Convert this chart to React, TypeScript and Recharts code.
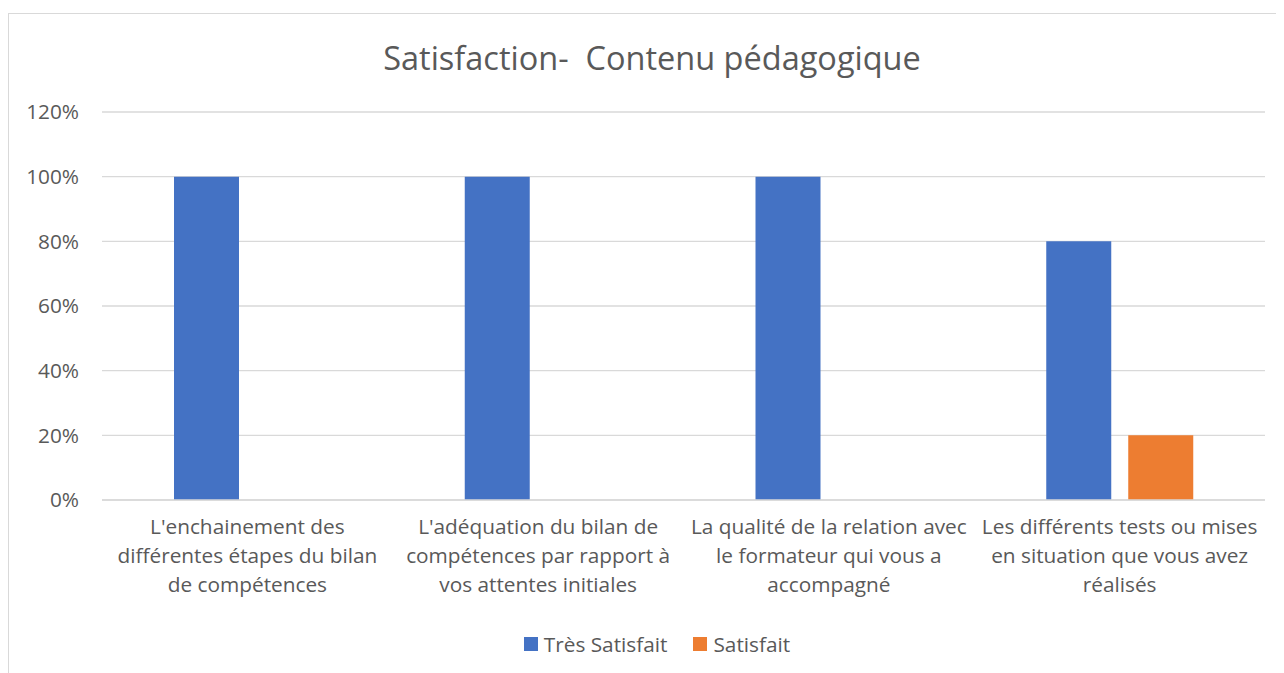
import React from 'react';
import { BarChart, Bar, XAxis, YAxis, CartesianGrid, Legend } from 'recharts';

const categories = [
  "L'enchainement des\ndifférentes étapes du bilan\nde compétences",
  "L'adéquation du bilan de\ncompétences par rapport à\nvos attentes initiales",
  "La qualité de la relation avec\nle formateur qui vous a\naccompagné",
  "Les différents tests ou mises\nen situation que vous avez\nréalisés",
];
const tresSatisfait = [1, 1, 1, 0.8];
const satisfait = [0, 0, 0, 0.2];
const yTicks = [0, 0.2, 0.4, 0.6, 0.8, 1, 1.2];

const seriesInfo = [
  { key: 'tres', name: 'Très Satisfait', color: '#4472C4' },
  { key: 'sat', name: 'Satisfait', color: '#ED7D31' },
];

const data = categories.map((c, i) => ({ name: c, tres: tresSatisfait[i], sat: satisfait[i] }));

const FONT = '"Open Sans", Lato, sans-serif';
const TEXT = '#595959';

const CategoryTick = ({ x, y, payload }: any) => {
  const lines = String(payload.value).split('\n');
  return (
    <text x={x} y={y} textAnchor="middle" fill={TEXT} fontSize={20.8} fontFamily={FONT}>
      {lines.map((l, i) => (
        <tspan key={i} x={x} dy={i === 0 ? 26 : 29}>{l}</tspan>
      ))}
    </text>
  );
};

const LegendContent = () => (
  <div style={{ display: 'flex', justifyContent: 'center', alignItems: 'center', height: 30, fontFamily: FONT, fontSize: 20.8, color: TEXT, paddingLeft: 40 }}>
    {seriesInfo.map((s, i) => (
      <div key={s.key} style={{ display: 'flex', alignItems: 'center', marginLeft: i ? 26 : 0 }}>
        <span style={{ width: 14, height: 14, background: s.color, display: 'inline-block', marginRight: 6 }} />
        <span>{s.name}</span>
      </div>
    ))}
  </div>
);

export default function App() {
  return (
    <div style={{ position: 'relative', width: 1276, height: 660, marginTop: 5, border: '1px solid #d9d9d9', borderBottom: 'none', background: '#fff' }}>
      <div style={{ position: 'absolute', top: 21, left: 5, width: '100%', textAlign: 'center', fontFamily: FONT, fontSize: 32.5, color: TEXT, whiteSpace: 'pre' }}>
        {'Satisfaction-  Contenu pédagogique'}
      </div>
      <BarChart width={1274} height={659} data={data} margin={{ top: 98, right: 18, bottom: 33, left: 0 }} barGap={17} barSize={65}>
        <CartesianGrid vertical={false} stroke="#d9d9d9" strokeWidth={1.3} />
        <XAxis dataKey="name" axisLine={{ stroke: '#d9d9d9', strokeWidth: 1.3 }} tickLine={false} height={110} interval={0} tick={<CategoryTick />} />
        <YAxis domain={[0, 1.2]} ticks={yTicks} width={93} axisLine={false} tickLine={false} tickSize={0} tickMargin={23}
          tickFormatter={(v: number) => `${Math.round(v * 100)}%`} tick={{ fill: TEXT, fontSize: 20.8, fontFamily: FONT }} />
        <Legend verticalAlign="bottom" wrapperStyle={{ bottom: 14 }} content={<LegendContent />} />
        {seriesInfo.map((s) => (
          <Bar key={s.key} dataKey={s.key} name={s.name} fill={s.color} isAnimationActive={false} />
        ))}
      </BarChart>
    </div>
  );
}
